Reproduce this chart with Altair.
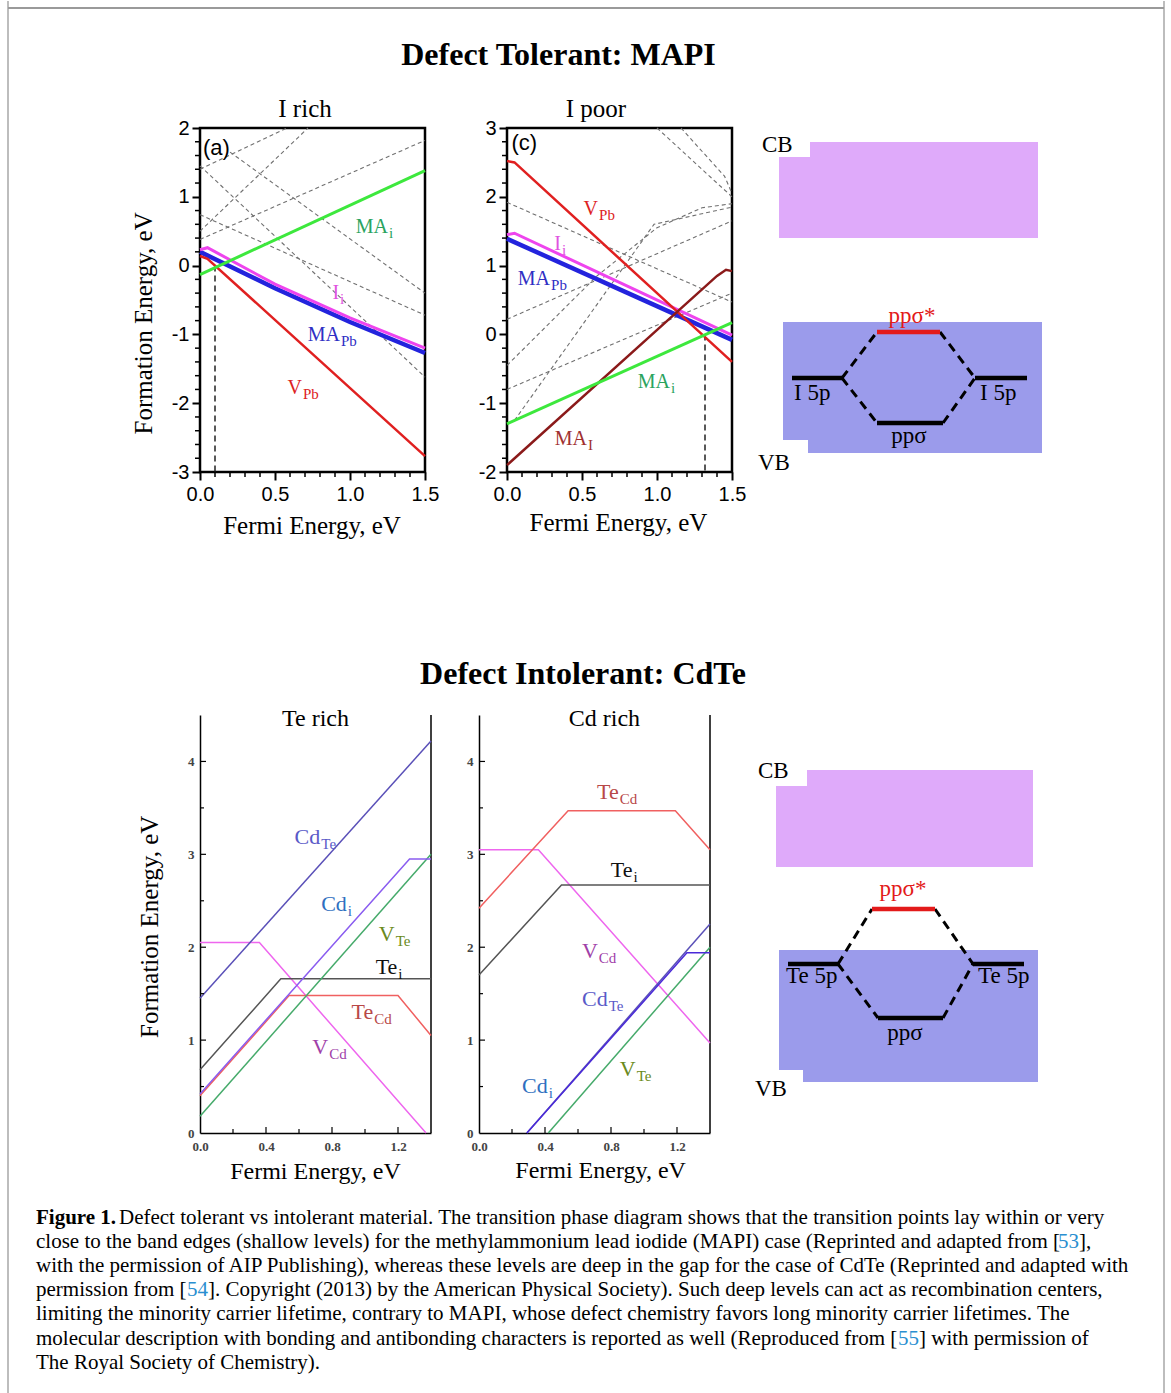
import altair as alt
import pandas as pd

SERIF = "Liberation Serif"
SANS = "Liberation Sans"

# ============================ DATA ============================
# ---- MAPI, I rich, panel (a): Fermi energy (eV) -> formation energy (eV)
A_MAI_X, A_MAI_Y = [0.0, 1.5], [-0.13, 1.38]
A_II_X, A_II_Y = [0.0, 0.05, 0.5, 1.0, 1.5], [0.23, 0.26, -0.27, -0.76, -1.20]
A_MAPB_X, A_MAPB_Y = [0.0, 0.5, 1.0, 1.5], [0.20, -0.33, -0.82, -1.27]
A_VPB_X, A_VPB_Y = [0.0, 0.05, 1.5], [0.14, 0.10, -2.77]
A_OTHER = [
    [(0.0, 1.45), (1.5, -1.62)],
    [(0.0, 0.74), (1.5, -0.72)],
    [(0.2, 1.65), (1.5, -0.40)],
    [(0.0, 0.50), (0.72, 2.00)],
    [(0.0, 0.38), (1.5, 1.82)],
    [(0.0, 1.40), (0.58, 2.00)],
]
A_PIN = 0.10
A_LABELS = [
    (1.253, 0.48, "MA", "i", "#2aa35e"),
    (0.927, -0.48, "I", "i", "#e052e0"),
    (0.933, -1.09, "MA", "Pb", "#2f2fc4"),
    (0.680, -1.86, "V", "Pb", "#dd2222"),
]

# ---- MAPI, I poor, panel (c)
C_VPB_X, C_VPB_Y = [0.0, 0.05, 1.5], [2.52, 2.50, -0.40]
C_II_X, C_II_Y = [0.0, 0.05, 1.5], [1.45, 1.47, -0.01]
C_MAPB_X, C_MAPB_Y = [0.0, 1.5], [1.39, -0.08]
C_MAII_X, C_MAII_Y = [0.0, 1.40, 1.46, 1.5], [-1.90, 0.85, 0.94, 0.92]
C_MAI_X, C_MAI_Y = [0.0, 1.5], [-1.30, 0.17]
C_OTHER = [
    [(0.0, 1.92), (1.5, 0.47)],
    [(0.0, 0.22), (1.5, 1.65)],
    [(0.0, -0.45), (0.6, 0.85), (1.0, 1.55), (1.3, 1.84), (1.5, 1.90)],
    [(0.0, -0.80), (1.5, 0.60)],
    [(0.05, -1.25), (0.98, 1.60), (1.5, 1.85)],
    [(1.0, 3.0), (1.5, 2.0)],
    [(1.16, 3.0), (1.45, 2.3), (1.5, 2.05)],
]
C_PIN = 1.32
C_LABELS = [
    (0.607, 1.735, "V", "Pb", "#dd2222"),
    (0.360, 1.227, "I", "i", "#e052e0"),
    (0.287, 0.718, "MA", "Pb", "#2f2fc4"),
    (1.087, -0.780, "MA", "i", "#2aa35e"),
    (0.533, -1.607, "MA", "I", "#a03030"),
]

# ---- CdTe, Te rich
T_CDTE = ([0.0, 1.4], [1.45, 4.22])
T_CDI = ([0.0, 1.27, 1.4], [0.42, 2.95, 2.95])
T_VTE = ([0.0, 1.4], [0.18, 3.00])
T_TEI = ([0.0, 0.49, 1.4], [0.68, 1.66, 1.66])
T_TECD = ([0.0, 0.54, 1.2, 1.4], [0.40, 1.48, 1.48, 1.05])
T_VCD = ([0.0, 0.36, 1.37], [2.05, 2.05, 0.0])
T_LABELS = [
    (0.729, 3.11, "Cd", "Te", "#5a5ac8"),
    (0.890, 2.39, "Cd", "i", "#2f6fc0"),
    (1.180, 2.07, "V", "Te", "#6a8a20"),
    (1.196, 1.71, "Te", "i", "#111111"),
    (1.050, 1.23, "Te", "Cd", "#b84848"),
    (0.777, 0.85, "V", "Cd", "#a040a8"),
]

# ---- CdTe, Cd rich
D_TECD = ([0.0, 0.54, 1.19, 1.4], [2.42, 3.47, 3.47, 3.05])
D_VCD = ([0.0, 0.36, 1.4], [3.05, 3.05, 0.97])
D_TEI = ([0.0, 0.50, 1.4], [1.70, 2.67, 2.67])
D_CDTE = ([0.29, 1.4], [0.0, 2.25])
D_CDI = ([0.29, 1.26, 1.4], [0.0, 1.94, 1.94])
D_VTE = ([0.42, 1.4], [0.0, 2.0])
D_LABELS = [
    (0.847, 3.60, "Te", "Cd", "#b84848"),
    (0.930, 2.76, "Te", "i", "#111111"),
    (0.720, 1.886, "V", "Cd", "#a040a8"),
    (0.780, 1.37, "Cd", "Te", "#5a5ac8"),
    (0.416, 0.43, "Cd", "i", "#2f6fc0"),
    (0.950, 0.614, "V", "Te", "#6a8a20"),
]

# ---- molecular-orbital schematics (drawing units)
M1_RECTS = [(810, 1038, 142, 238, "#dfaafa"), (779, 810, 157, 238, "#dfaafa"),
            (783, 1042, 322, 440, "#9b9beb"), (808, 1042, 440, 453, "#9b9beb")]
M1_LEVELS = [(792, 842, 378, "black"), (975, 1027, 378, "black"),
             (877, 940, 332, "#e31a1a"), (877, 943, 423, "black")]
M1_LINKS = [(842, 378, 877, 332), (842, 378, 877, 423), (940, 332, 975, 378), (943, 423, 975, 378)]
M1_LEFT_TEXT = [(762, 152, "CB", "black"), (758, 470, "VB", "black"),
                (794, 400, "I 5p", "black"), (980, 400, "I 5p", "black")]
M1_MID_TEXT = [(912, 323, "ppσ*", "#e31a1a"), (909, 443, "ppσ", "black")]

M2_RECTS = [(807, 1033, 770, 867, "#dfaafa"), (776, 807, 786, 867, "#dfaafa"),
            (779, 1038, 950, 1070, "#9b9beb"), (803, 1038, 1070, 1082, "#9b9beb")]
M2_LEVELS = [(788, 838, 964, "black"), (973, 1024, 964, "black"),
             (872, 935, 909, "#e31a1a"), (878, 943, 1018, "black")]
M2_LINKS = [(838, 964, 872, 909), (838, 964, 878, 1018), (935, 909, 973, 964), (943, 1018, 973, 964)]
M2_LEFT_TEXT = [(758, 778, "CB", "black"), (755, 1096, "VB", "black"),
                (786, 983, "Te 5p", "black"), (978, 983, "Te 5p", "black")]
M2_MID_TEXT = [(903, 896, "ppσ*", "#e31a1a"), (905, 1040, "ppσ", "black")]

# ---- section titles
TITLE_1 = "Defect Tolerant: MAPI"
TITLE_2 = "Defect Intolerant: CdTe"

# ---- caption (segments: line, x, text, weight, colour)
CAPTION = [
    (0, 0, "Figure 1.", "bold", "black"),
    (0, 83, "Defect tolerant vs intolerant material. The transition phase diagram shows that the transition points lay within or very", "normal", "black"),
    (1, 0, "close to the band edges (shallow levels) for the methylammonium lead iodide (MAPI) case (Reprinted and adapted from [", "normal", "black"),
    (1, 1022, "53", "normal", "#2a8fd0"),
    (1, 1043, "],", "normal", "black"),
    (2, 0, "with the permission of AIP Publishing), whereas these levels are deep in the gap for the case of CdTe (Reprinted and adapted with", "normal", "black"),
    (3, 0, "permission from [", "normal", "black"),
    (3, 151, "54", "normal", "#2a8fd0"),
    (3, 172, "]. Copyright (2013) by the American Physical Society). Such deep levels can act as recombination centers,", "normal", "black"),
    (4, 0, "limiting the minority carrier lifetime, contrary to MAPI, whose defect chemistry favors long minority carrier lifetimes. The", "normal", "black"),
    (5, 0, "molecular description with bonding and antibonding characters is reported as well (Reproduced from [", "normal", "black"),
    (5, 862, "55", "normal", "#2a8fd0"),
    (5, 883, "] with permission of", "normal", "black"),
    (6, 0, "The Royal Society of Chemistry).", "normal", "black"),
]

# ============================ HELPERS ============================
BORDER_COL = "#bdbdbd"
BL, BR = -28, 1128          # page border x, relative to the column origin


def seq_df(xs, ys):
    return pd.DataFrame({"x": xs, "y": ys, "o": list(range(len(xs)))})


def multi_df(groups):
    rows = []
    for g, pts in enumerate(groups):
        for o, (x, y) in enumerate(pts):
            rows.append({"g": g, "o": o, "x": x, "y": y})
    return pd.DataFrame(rows)


def line(xs, ys, color, width, X, Y):
    return alt.Chart(seq_df(xs, ys)).mark_line(color=color, strokeWidth=width).encode(
        x=X, y=Y, order="o:Q")


def sub_labels(labels, X, Y, fs, sfs, sdy):
    df = pd.DataFrame(labels, columns=["x", "y", "main", "sub", "c"])
    m = alt.Chart(df).mark_text(font=SERIF, fontSize=fs, align="right", baseline="alphabetic").encode(
        x=X, y=Y, text="main:N", color=alt.Color("c:N", scale=None))
    s = alt.Chart(df).mark_text(font=SERIF, fontSize=sfs, align="left", baseline="alphabetic",
                                dx=1, dy=sdy).encode(
        x=X, y=Y, text="sub:N", color=alt.Color("c:N", scale=None))
    return [m, s]


def text_layer(items, X, Y, size, font=SERIF, angle=0, align="center", baseline="alphabetic",
               weight="normal", color="black"):
    df = pd.DataFrame(items, columns=["x", "y", "t"])
    kw = dict(font=font, fontSize=size, align=align, baseline=baseline, fontWeight=weight, color=color)
    if angle:
        kw["angle"] = angle
    return alt.Chart(df).mark_text(**kw).encode(x=X, y=Y, text="t:N")


def rules_x(vals, X, y0, y1, width=1.5):
    return alt.Chart(pd.DataFrame({"x": vals})).mark_rule(color="black", strokeWidth=width).encode(
        x=X, y=alt.value(y0), y2=alt.value(y1))


def rules_y(vals, Y, x0, x1, width=1.5):
    return alt.Chart(pd.DataFrame({"y": vals})).mark_rule(color="black", strokeWidth=width).encode(
        y=Y, x=alt.value(x0), x2=alt.value(x1))


ONE = pd.DataFrame({"k": [0]})


def border_sides(y0, y1):
    return [alt.Chart(ONE).mark_rule(color=BORDER_COL, strokeWidth=2, strokeCap="square").encode(
        x=alt.value(xv), y=alt.value(y0), y2=alt.value(y1)) for xv in (BL, BR)]


def spacer(w, h, y0, y1, title, tx, ty, top_line=None):
    """Left margin block of a row: carries the section title and the page border segment."""
    layers = [alt.Chart(pd.DataFrame({"t": [title]})).mark_text(
        font=SERIF, fontSize=32, fontWeight="bold", align="center", baseline="alphabetic",
        color="black").encode(text="t:N", x=alt.value(tx), y=alt.value(ty))]
    layers += border_sides(y0, y1)
    if top_line is not None:
        layers.append(alt.Chart(ONE).mark_rule(color="#9a9a9a", strokeWidth=2).encode(
            x=alt.value(BL), x2=alt.value(BR), y=alt.value(top_line)))
    return alt.layer(*layers).properties(width=w, height=h)


# ============================ MAPI PANELS ============================
MW, MH = 225, 344


def mapi_panel(ydom, series, other, pin, labels, tag, texts, ylabel_text=None):
    xs = alt.Scale(domain=[0, 1.5], nice=False, zero=False)
    ys = alt.Scale(domain=ydom, nice=False, zero=False)
    xaxis = alt.Axis(values=[0, 0.5, 1.0, 1.5], format=".1f", title=None, grid=False, domain=False,
                     tickSize=8, tickWidth=2, tickColor="black", labelFont=SANS, labelFontSize=20,
                     labelColor="black", labelPadding=4, labelFlush=False, labelOverlap=False)
    yaxis = alt.Axis(values=list(range(int(ydom[0]), int(ydom[1]) + 1)), labelExpr="toString(datum.value)",
                     title=None, grid=False, domain=False, tickSize=8, tickWidth=2, tickColor="black",
                     labelFont=SANS, labelFontSize=20, labelColor="black", labelPadding=3,
                     labelFlush=False, labelOverlap=False)
    X = alt.X("x:Q", scale=xs, axis=xaxis)
    Y = alt.Y("y:Q", scale=ys, axis=yaxis)
    layers = []
    layers.append(alt.Chart(multi_df(other)).mark_line(color="#707070", strokeWidth=1.1,
                                                       strokeDash=[4, 3]).encode(
        x=X, y=Y, detail="g:N", order="o:Q"))
    pin_df = pd.DataFrame({"x": [pin], "y": [0.0], "y2": [ydom[0]]})
    layers.append(alt.Chart(pin_df).mark_rule(color="#222", strokeWidth=1.5, strokeDash=[6, 4]).encode(
        x=X, y=Y, y2="y2:Q"))
    for xsr, ysr, col, w in series:
        layers.append(line(xsr, ysr, col, w, X, Y))
    layers += sub_labels(labels, X, Y, 20, 15, 5)
    layers.append(text_layer([tag], X, Y, 22, font=SANS, align="left"))
    layers.append(text_layer(texts, X, Y, 25))
    if ylabel_text:
        layers.append(text_layer([ylabel_text], X, Y, 25, angle=270, baseline="middle"))
    minor_x = [i / 10 for i in range(16) if i % 5]
    minor_y = [k / 5 for k in range(int(ydom[0] * 5), int(ydom[1] * 5) + 1) if k % 5]
    layers.append(rules_x(minor_x, X, MH, MH + 5, 1.5))
    layers.append(rules_y(minor_y, Y, 0, -5, 1.5))
    return alt.layer(*layers).properties(
        width=MW, height=MH, view=alt.ViewBackground(stroke="black", strokeWidth=2.5))


panel_a = mapi_panel(
    [-3, 2],
    [(A_MAPB_X, A_MAPB_Y, "#2323dd", 4.5), (A_II_X, A_II_Y, "#ee44ee", 3),
     (A_VPB_X, A_VPB_Y, "#e02020", 2.5), (A_MAI_X, A_MAI_Y, "#3de83d", 3)],
    A_OTHER, A_PIN, A_LABELS, (0.02, 1.61, "(a)"),
    [(0.70, 2.16, "I rich"), (0.747, -3.904, "Fermi Energy, eV")],
    ylabel_text=(-0.371, -0.84, "Formation Energy, eV"))

panel_c = mapi_panel(
    [-2, 3],
    [(C_MAPB_X, C_MAPB_Y, "#2323dd", 4.5), (C_II_X, C_II_Y, "#ee44ee", 3),
     (C_VPB_X, C_VPB_Y, "#e02020", 2.5), (C_MAII_X, C_MAII_Y, "#8b1a1a", 2.5),
     (C_MAI_X, C_MAI_Y, "#3de83d", 3)],
    C_OTHER, C_PIN, C_LABELS, (0.03, 2.68, "(c)"),
    [(0.593, 3.16, "I poor"), (0.743, -2.857, "Fermi Energy, eV")])

# ============================ CdTe PANELS ============================
TW, TH = 231, 418


def cdte_panel(series, labels, texts, ylabel_text=None):
    xs = alt.Scale(domain=[0, 1.4], nice=False, zero=False)
    ys = alt.Scale(domain=[0, 4.5], nice=False, zero=False)
    xaxis = alt.Axis(values=[0, 0.4, 0.8, 1.2], format=".1f", title=None, grid=False, ticks=False,
                     domainColor="black", domainWidth=1.5, labelFont=SERIF, labelFontSize=13,
                     labelFontWeight="bold", labelColor="#444", labelPadding=7, labelFlush=False,
                     labelOverlap=False)
    yaxis = alt.Axis(values=[0, 1, 2, 3, 4], format="d", title=None, grid=False, ticks=False,
                     domainColor="black", domainWidth=1.5, labelFont=SERIF, labelFontSize=13,
                     labelFontWeight="bold", labelColor="#444", labelPadding=6, labelFlush=False,
                     labelOverlap=False)
    X = alt.X("x:Q", scale=xs, axis=xaxis)
    Y = alt.Y("y:Q", scale=ys, axis=yaxis)
    layers = []
    right = pd.DataFrame({"x": [1.4], "y": [0.0], "y2": [4.5]})
    layers.append(alt.Chart(right).mark_rule(color="black", strokeWidth=1.5).encode(x=X, y=Y, y2="y2:Q"))
    for (xsr, ysr), col in series:
        layers.append(line(xsr, ysr, col, 1.5, X, Y))
    layers += sub_labels(labels, X, Y, 22, 15, 5)
    layers.append(text_layer(texts, X, Y, 24))
    if ylabel_text:
        layers.append(text_layer([ylabel_text], X, Y, 25, angle=270, baseline="middle"))
    layers.append(rules_x([0.4, 0.8, 1.2], X, TH, TH - 6, 1.2))
    layers.append(rules_x([0.2, 0.6, 1.0], X, TH, TH - 4, 1.2))
    layers.append(rules_y([1, 2, 3, 4], Y, 0, 6, 1.2))
    layers.append(rules_y([0.5, 1.5, 2.5, 3.5], Y, 0, 4, 1.2))
    return alt.layer(*layers).properties(width=TW, height=TH)


panel_t = cdte_panel(
    [(T_VCD, "#ee66ee"), (T_TEI, "#555555"), (T_TECD, "#f06060"), (T_VTE, "#45aa6a"),
     (T_CDTE, "#5a50b8"), (T_CDI, "#8a5cf0")],
    T_LABELS, [(0.70, 4.386, "Te rich"), (0.70, -0.496, "Fermi Energy, eV")],
    ylabel_text=(-0.306, 2.22, "Formation Energy, eV"))

panel_d = cdte_panel(
    [(D_VCD, "#ee66ee"), (D_TEI, "#555555"), (D_TECD, "#f06060"), (D_VTE, "#45aa6a"),
     (D_CDTE, "#5a50b8"), (D_CDI, "#4a2ad8")],
    D_LABELS, [(0.76, 4.386, "Cd rich"), (0.737, -0.485, "Fermi Energy, eV")])


# ============================ SCHEMATICS ============================
def schematic(rects, levels, links, left_text, mid_text, xdom, ydom):
    X = alt.X("x:Q", scale=alt.Scale(domain=xdom, nice=False, zero=False), axis=None)
    Y = alt.Y("y:Q", scale=alt.Scale(domain=ydom, nice=False, zero=False, reverse=True), axis=None)
    rdf = pd.DataFrame(rects, columns=["x", "x2", "y", "y2", "c"])
    ldf = pd.DataFrame(levels, columns=["x", "x2", "y", "c"])
    kdf = pd.DataFrame(links, columns=["x", "y", "x2", "y2"])
    ltd = pd.DataFrame(left_text, columns=["x", "y", "t", "c"])
    mtd = pd.DataFrame(mid_text, columns=["x", "y", "t", "c"])
    layers = [
        alt.Chart(rdf).mark_rect().encode(x=X, x2="x2:Q", y=Y, y2="y2:Q",
                                           color=alt.Color("c:N", scale=None)),
        alt.Chart(kdf).mark_rule(color="black", strokeWidth=3, strokeDash=[9, 6]).encode(
            x=X, x2="x2:Q", y=Y, y2="y2:Q"),
        alt.Chart(ldf).mark_rule(strokeWidth=4.5).encode(x=X, x2="x2:Q", y=Y,
                                                         color=alt.Color("c:N", scale=None)),
        alt.Chart(ltd).mark_text(font=SERIF, fontSize=23, align="left", baseline="alphabetic").encode(
            x=X, y=Y, text="t:N", color=alt.Color("c:N", scale=None)),
        alt.Chart(mtd).mark_text(font=SERIF, fontSize=23, align="center", baseline="alphabetic").encode(
            x=X, y=Y, text="t:N", color=alt.Color("c:N", scale=None)),
    ]
    return alt.layer(*layers).properties(width=xdom[1] - xdom[0], height=ydom[1] - ydom[0])


diag1 = schematic(M1_RECTS, M1_LEVELS, M1_LINKS, M1_LEFT_TEXT, M1_MID_TEXT, [814, 1048], [128, 472])
diag2 = schematic(M2_RECTS, M2_LEVELS, M2_LINKS, M2_LEFT_TEXT, M2_MID_TEXT, [758, 1040], [715, 1133])

# ============================ CAPTION ============================
COLW = 1104
CAP_H = 198
CAP_B0 = 29
cap_df = pd.DataFrame(CAPTION, columns=["line", "x", "t", "w", "c"])
CX = alt.X("x:Q", scale=alt.Scale(domain=[0, COLW], nice=False, zero=False), axis=None)
CY = alt.Y("line:Q", scale=alt.Scale(domain=[-CAP_B0 / 24.1, (CAP_H - CAP_B0) / 24.1], nice=False,
                                      zero=False, reverse=True), axis=None)
cap_layers = []
for wgt in ["normal", "bold"]:
    cap_layers.append(alt.Chart(cap_df[cap_df.w == wgt]).mark_text(
        font=SERIF, fontSize=21, fontWeight=wgt, align="left", baseline="alphabetic").encode(
        x=CX, y=CY, text="t:N", color=alt.Color("c:N", scale=None)))
cap_layers += border_sides(0, CAP_H)
caption = alt.layer(*cap_layers).properties(width=COLW, height=CAP_H)

# ============================ LAYOUT ============================
# row 1 plot top sits at page y=128, row 2 plot top at page y=715; the border segments carried by
# each block span its whole band, so they also fix the vertical stacking (bounds pad = stroke width,
# hence the -2 spacing so the segments join without a gap).
sp1 = spacer(82, MH, -126, 500, TITLE_1, 522.5, -63, top_line=-120)
sp2 = spacer(116, TH, -85, 478, TITLE_2, 547, -31)
row1 = alt.hconcat(sp1, panel_a, panel_c, diag1, spacing=82, bounds="flush")
row2 = alt.hconcat(sp2, panel_t, panel_d, diag2, spacing=48, bounds="flush")

chart = alt.vconcat(row1, row2, caption, spacing=-2).properties(
    padding={"left": 6, "top": 0, "right": 0, "bottom": 0}, background="white"
).configure_view(stroke=None)

chart.save("out.html", embed_options={"renderer": "svg", "actions": False})
